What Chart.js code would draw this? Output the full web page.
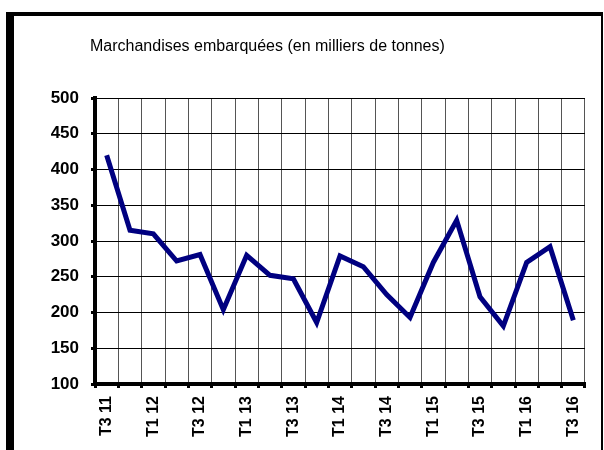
<!DOCTYPE html>
<html>
<head>
<meta charset="utf-8">
<script src="https://cdn.jsdelivr.net/npm/chart.js@4"></script>
<style>
  body { margin: 0; background: #fff; }
  #frame {
    position: absolute; left: 6px; top: 12px;
    width: 587px; height: 438px;
    border-left: 8px solid #000; border-top: 4px solid #000; border-right: 2px solid #000;
  }
  canvas { display: block; }
</style>
</head>
<body>
<div id="frame"><canvas id="shipChart" width="587" height="438"></canvas></div>
<script>
var quarters = ['T3 11', 'T4 11', 'T1 12', 'T2 12', 'T3 12', 'T4 12', 'T1 13', 'T2 13', 'T3 13', 'T4 13',
    'T1 14', 'T2 14', 'T3 14', 'T4 14', 'T1 15', 'T2 15', 'T3 15', 'T4 15', 'T1 16', 'T2 16', 'T3 16'];
var tonnes = [420, 315, 310, 272, 281, 204, 280, 252, 247, 186,
    279, 264, 225, 193, 270, 329, 222, 181, 270, 292, 189];
var yTicks = [100, 150, 200, 250, 300, 350, 400, 450, 500];
var chartTitle = 'Marchandises embarquées (en milliers de tonnes)';

var font = "'Liberation Sans', Arial, sans-serif";

// title sits left of centre, so draw it by hand
var titlePlugin = {
    id: 'leftTitle',
    afterDraw: function(chart) {
        var c = chart.ctx;
        c.save();
        c.font = '16px ' + font;
        c.fillStyle = '#000';
        c.textBaseline = 'middle';
        c.fillText(chartTitle, chart.chartArea.left - 5, 31);
        c.restore();
    }
};

var ctx = document.getElementById('shipChart').getContext('2d');
new Chart(ctx, {
    type: 'line',
    data: {
        labels: quarters,
        datasets: [{
            data: tonnes,
            borderColor: '#000080',
            borderWidth: 5,
            borderJoinStyle: 'miter',
            pointRadius: 0,
            tension: 0,
            fill: false
        }]
    },
    options: {
        responsive: false,
        animation: false,
        layout: { padding: { top: 82, right: 16, left: 0, bottom: 0 } },
        plugins: {
            legend: { display: false },
            tooltip: { enabled: false },
            title: { display: false }
        },
        scales: {
            x: {
                offset: true,
                grid: { offset: true, color: '#555', lineWidth: 1, tickColor: '#000', tickWidth: 3, tickLength: 4 },
                border: { color: '#000', width: 4 },
                ticks: {
                    autoSkip: false,
                    maxRotation: 90,
                    minRotation: 90,
                    padding: 8,
                    color: '#000',
                    font: { family: font, size: 16, weight: 'bold' },
                    callback: function(value, index) {
                        return index % 2 === 0 ? quarters[index] : '';
                    }
                },
                afterFit: function(scale) { scale.height = 70; }
            },
            y: {
                min: yTicks[0],
                max: yTicks[yTicks.length - 1],
                afterBuildTicks: function(scale) {
                    scale.ticks = yTicks.map(function(v) { return { value: v }; });
                },
                grid: { color: '#000', lineWidth: 1, tickColor: '#000', tickWidth: 3, tickLength: 4 },
                border: { color: '#000', width: 4 },
                ticks: {
                    padding: 12,
                    color: '#000',
                    font: { family: font, size: 17, weight: 'bold' }
                },
                afterFit: function(scale) { scale.width = 81; }
            }
        }
    },
    plugins: [titlePlugin]
});
</script>
</body>
</html>
